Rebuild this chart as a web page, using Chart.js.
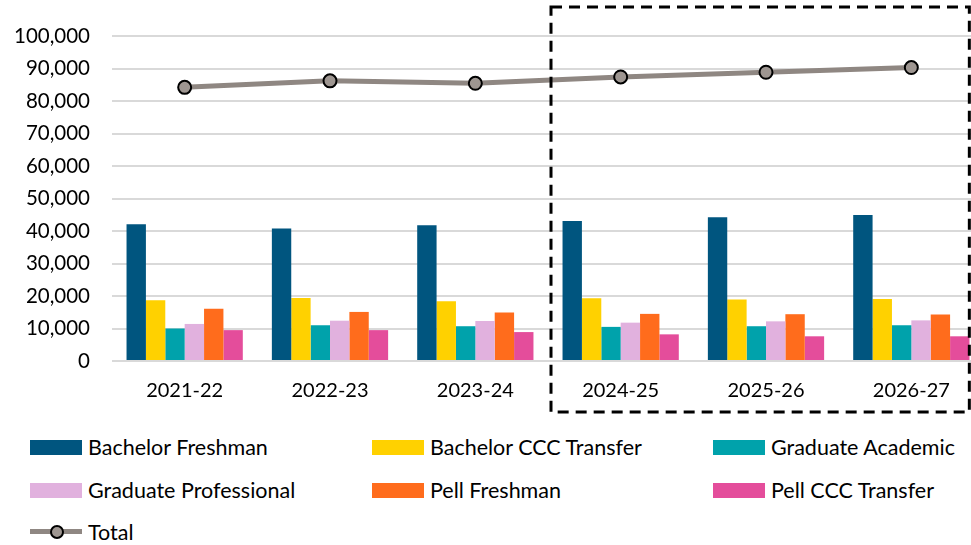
<!DOCTYPE html>
<html>
<head>
<meta charset="utf-8">
<script src="https://cdn.jsdelivr.net/npm/chart.js@4/dist/chart.umd.min.js"></script>
<style>
  body { margin: 0; background: #fff; overflow: hidden; width: 971px; height: 545px; position: relative; font-family: Lato, "Open Sans", sans-serif; }
  #wrap { position: absolute; left: 0; top: 0; width: 1000px; height: 420px; }
  #legend { position: absolute; left: 0; top: 425px; width: 971px; }
  .item { position: absolute; height: 22px; line-height: 22px; font-size: 21.5px; color: #000; white-space: nowrap; }
  .swatch { position: absolute; left: 0; top: 4px; width: 52px; height: 15px; }
  .item span.txt { position: absolute; left: 58px; top: 0; }
  .lineswatch { position: absolute; left: 0; top: 8px; width: 52px; height: 5px; }
  .dot { position: absolute; left: 20px; top: 4px; width: 10px; height: 10px; border-radius: 50%; border: 2px solid #000; box-sizing: content-box; }
</style>
</head>
<body>
<div id="wrap"><canvas id="enrollChart" width="1000" height="420"></canvas></div>
<div id="legend"></div>
<script>
// chart data
const years = ['2021-22', '2022-23', '2023-24', '2024-25', '2025-26', '2026-27'];
const bachelorFreshman = [42100, 40800, 41800, 43050, 44200, 44900];
const bachelorCCC = [18700, 19400, 18400, 19300, 18900, 19100];
const gradAcademic = [10000, 11000, 10700, 10500, 10700, 11000];
const gradProfessional = [11400, 12400, 12300, 11800, 12200, 12500];
const pellFreshman = [16100, 15100, 14900, 14500, 14400, 14300];
const pellCCC = [9500, 9500, 8900, 8200, 7600, 7600];
const total = [84200, 86200, 85450, 87400, 88850, 90300];
const yTicks = [0, 10000, 20000, 30000, 40000, 50000, 60000, 70000, 80000, 90000, 100000];

const barSeries = [
  { label: 'Bachelor Freshman', data: bachelorFreshman, color: '#00557F' },
  { label: 'Bachelor CCC Transfer', data: bachelorCCC, color: '#FFD100' },
  { label: 'Graduate Academic', data: gradAcademic, color: '#00A2AB' },
  { label: 'Graduate Professional', data: gradProfessional, color: '#E1B1DE' },
  { label: 'Pell Freshman', data: pellFreshman, color: '#FF6C1C' },
  { label: 'Pell CCC Transfer', data: pellCCC, color: '#E44D9B' }
];

const lineColor = '#8F8782';
const fontFamily = 'Lato, "Open Sans", sans-serif';

// dashed box around projected years
const projectionBox = {
  id: 'projectionBox',
  afterDraw(chart) {
    const x = chart.scales.x;
    const area = chart.chartArea;
    const left = (x.getPixelForValue(2) + x.getPixelForValue(3)) / 2 + 3;
    const right = x.getPixelForValue(5) + 58;
    const top = area.top - 29;
    const bottom = area.bottom + 51;
    const ctx = chart.ctx;
    ctx.save();
    ctx.strokeStyle = '#000';
    ctx.lineWidth = 3;
    ctx.setLineDash([11, 7]);
    ctx.strokeRect(left, top, right - left, bottom - top);
    ctx.restore();
  }
};

const datasets = barSeries.map(s => ({
  type: 'bar',
  label: s.label,
  data: s.data,
  backgroundColor: s.color,
  categoryPercentage: 0.8,
  barPercentage: 1.0,
  order: 2
}));

datasets.push({
  type: 'line',
  label: 'Total',
  data: total,
  borderColor: lineColor,
  borderWidth: 5,
  pointBackgroundColor: '#9E9691',
  pointBorderColor: '#000',
  pointBorderWidth: 2,
  pointRadius: 6.5,
  tension: 0,
  order: 1
});

const ctx = document.getElementById('enrollChart').getContext('2d');
new Chart(ctx, {
  type: 'bar',
  data: { labels: years, datasets: datasets },
  options: {
    responsive: false,
    animation: false,
    layout: { padding: { top: 36, left: 0, right: 16, bottom: 0 } },
    plugins: {
      legend: { display: false },
      tooltip: { enabled: false }
    },
    scales: {
      x: {
        grid: { display: false, drawTicks: false },
        border: { display: false },
        ticks: { color: '#000', font: { family: fontFamily, size: 20 }, padding: 18 },
        afterFit(scale) { scale.height = 59; }
      },
      y: {
        min: 0,
        max: 100000,
        afterBuildTicks(scale) { scale.ticks = yTicks.map(v => ({ value: v })); },
        grid: { color: '#D9D9D9', lineWidth: 2, drawTicks: false },
        border: { display: false },
        ticks: {
          color: '#000',
          font: { family: fontFamily, size: 20.5 },
          padding: 22,
          callback: v => v.toLocaleString('en-US')
        },
        afterFit(scale) { scale.width = 112; }
      }
    }
  },
  plugins: [projectionBox]
});

// legend in fixed columns
const legend = document.getElementById('legend');
const cols = [30, 372, 713];
const rows = [11, 54, 96];
barSeries.forEach((s, i) => {
  const el = document.createElement('div');
  el.className = 'item';
  el.style.left = cols[i % 3] + 'px';
  el.style.top = rows[Math.floor(i / 3)] + 'px';
  el.innerHTML = '<div class="swatch" style="background:' + s.color + '"></div><span class="txt">' + s.label + '</span>';
  legend.appendChild(el);
});
const totalItem = document.createElement('div');
totalItem.className = 'item';
totalItem.style.left = cols[0] + 'px';
totalItem.style.top = rows[2] + 'px';
totalItem.innerHTML = '<div class="lineswatch" style="background:' + lineColor + '"></div>' +
  '<div class="dot" style="background:#9E9691"></div><span class="txt">Total</span>';
legend.appendChild(totalItem);
</script>
</body>
</html>
